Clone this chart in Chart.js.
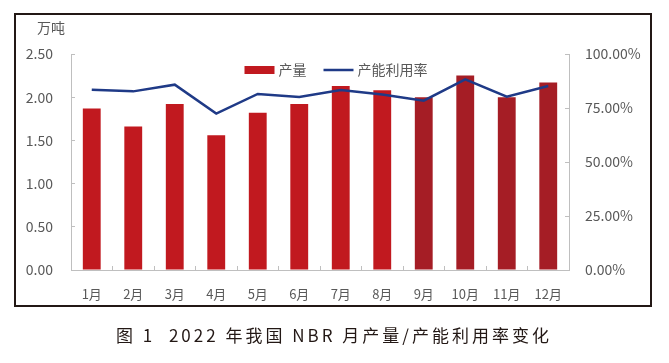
<!DOCTYPE html>
<html>
<head>
<meta charset="utf-8">
<script src="https://cdn.jsdelivr.net/npm/chart.js@4/dist/chart.umd.min.js"></script>
<style>
  html, body { margin: 0; padding: 0; background: #fff; }
  #wrap { width: 669px; height: 363px; }
</style>
</head>
<body>
<div id="wrap"><canvas id="nbrChart" width="669" height="363"></canvas></div>
<script>
// 月份
const months = ['1月', '2月', '3月', '4月', '5月', '6月', '7月', '8月', '9月', '10月', '11月', '12月'];
// 产量（万吨）
const output = [1.87, 1.66, 1.92, 1.56, 1.82, 1.92, 2.13, 2.08, 2.00, 2.25, 2.00, 2.17];
// 产能利用率（%）
const utilization = [83.5, 82.7, 85.8, 72.4, 81.5, 80.1, 83.3, 81.3, 78.4, 88.3, 80.2, 85.2];

const FONT = '"Noto Sans CJK SC", "Noto Sans", sans-serif';
const GREY = '#595959';
const AXIS = '#BFBFBF';
const RED = '#C1191F';
const DARK_RED = '#A51D25';
const BLUE = '#1F3A87';

// 外框、图例、单位和图题
const framePlugin = {
    id: 'frame',
    beforeDraw(chart) {
        const ctx = chart.ctx;
        ctx.save();
        ctx.fillStyle = '#fff';
        ctx.fillRect(0, 0, chart.width, chart.height);
        ctx.restore();
    },
    afterDraw(chart) {
        const ctx = chart.ctx;
        const ds = chart.data.datasets;
        ctx.save();
        ctx.strokeStyle = '#231815';
        ctx.lineWidth = 2;
        ctx.strokeRect(15, 14, 636, 292);

        // 图例（绘图区内居中）
        ctx.font = '14px ' + FONT;
        ctx.textBaseline = 'middle';
        ctx.textAlign = 'left';
        const boxW = 30, gap = 4, spacing = 17;
        const w0 = ctx.measureText(ds[0].label).width;
        const w1 = ctx.measureText(ds[1].label).width;
        const total = boxW + gap + w0 + spacing + boxW + gap + w1;
        let x = 336 - total / 2;
        const ly = 70;
        ctx.fillStyle = RED;
        ctx.fillRect(x, ly - 4, boxW, 8);
        x += boxW + gap;
        ctx.fillStyle = GREY;
        ctx.fillText(ds[0].label, x, ly);
        x += w0 + spacing;
        ctx.strokeStyle = ds[1].borderColor;
        ctx.lineWidth = 2.5;
        ctx.beginPath();
        ctx.moveTo(x, ly);
        ctx.lineTo(x + boxW, ly);
        ctx.stroke();
        x += boxW + gap;
        ctx.fillText(ds[1].label, x, ly);

        // 单位
        ctx.fillText('万吨', 37, 28);

        // 图题
        ctx.fillStyle = '#231815';
        ctx.font = '17px ' + FONT;
        ctx.letterSpacing = '3px';
        ctx.textAlign = 'center';
        ctx.fillText('图 1  2022 年我国 NBR 月产量/产能利用率变化', 334, 336);
        ctx.restore();
    }
};

const ctx = document.getElementById('nbrChart').getContext('2d');
new Chart(ctx, {
    data: {
        labels: months,
        datasets: [{
            type: 'bar',
            label: '产量',
            data: output,
            yAxisID: 'y',
            backgroundColor: c => c.dataIndex < 8 ? RED : DARK_RED,
            barPercentage: 0.43,
            categoryPercentage: 1,
            order: 2
        }, {
            type: 'line',
            label: '产能利用率',
            data: utilization,
            yAxisID: 'y1',
            borderColor: BLUE,
            backgroundColor: BLUE,
            borderWidth: 2.5,
            pointRadius: 0,
            tension: 0,
            order: 1
        }]
    },
    options: {
        responsive: false,
        animation: false,
        layout: { padding: { top: 54, left: 0, right: 0, bottom: 53 } },
        plugins: {
            legend: { display: false },
            tooltip: { enabled: false }
        },
        scales: {
            x: {
                grid: { drawOnChartArea: false, drawTicks: true, tickLength: -4, color: AXIS },
                border: { color: AXIS },
                ticks: { color: GREY, padding: 20, font: { family: FONT, size: 13 } },
                afterFit: s => { s.height = 40; }
            },
            y: {
                position: 'left',
                min: 0,
                max: 2.5,
                grid: { drawOnChartArea: false, drawTicks: true, tickLength: -4, color: AXIS },
                border: { color: AXIS },
                ticks: {
                    stepSize: 0.5,
                    color: GREY,
                    padding: 22,
                    font: { family: FONT, size: 14 },
                    callback: v => v.toFixed(2)
                },
                afterFit: s => { s.width = 71; }
            },
            y1: {
                position: 'right',
                min: 0,
                max: 100,
                grid: { drawOnChartArea: false, drawTicks: true, tickLength: -4, color: AXIS },
                border: { color: AXIS },
                ticks: {
                    stepSize: 25,
                    color: GREY,
                    padding: 20,
                    font: { family: FONT, size: 14 },
                    callback: v => v.toFixed(2) + '%'
                },
                afterFit: s => { s.width = 100; }
            }
        }
    },
    plugins: [framePlugin]
});
</script>
</body>
</html>
